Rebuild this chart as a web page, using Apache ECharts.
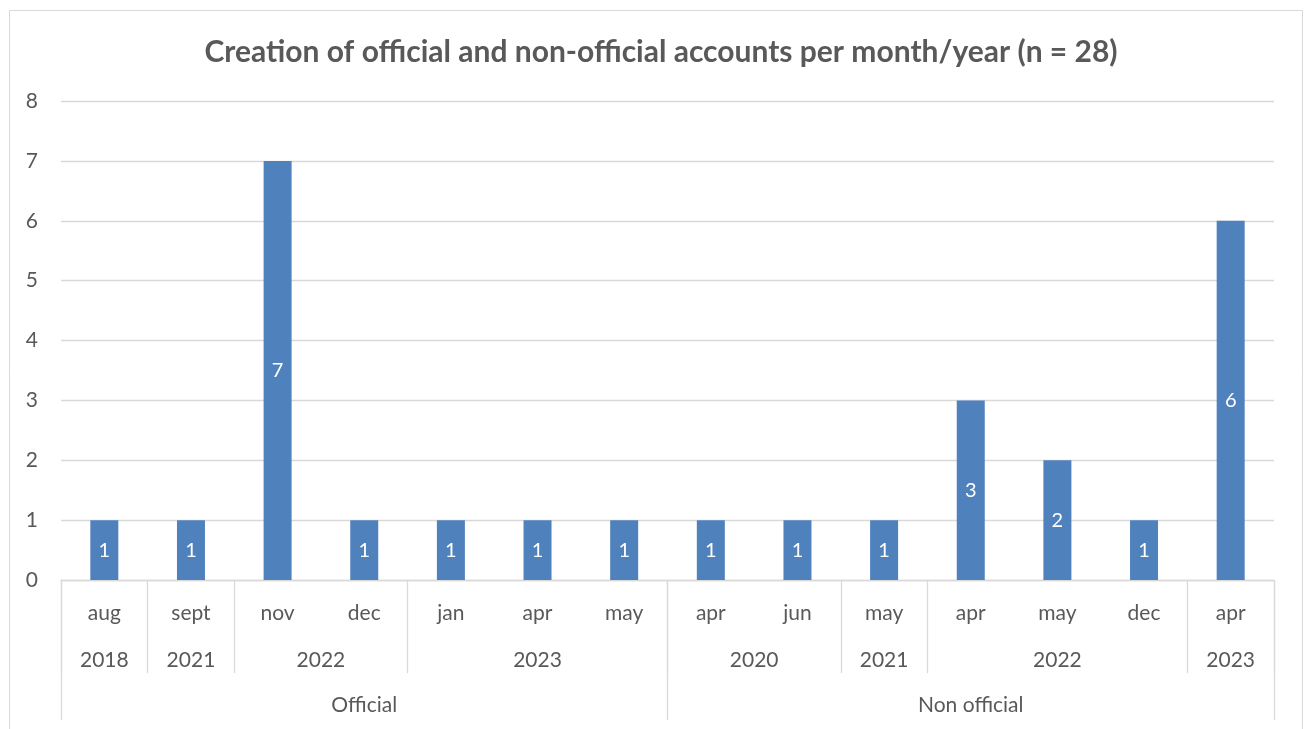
<!DOCTYPE html>
<html>
<head>
<meta charset="utf-8">
<script src="https://cdn.jsdelivr.net/npm/echarts@6/dist/echarts.min.js"></script>
<style>
  html, body { margin: 0; padding: 0; background: #ffffff; }
  #chart { width: 1305px; height: 729px; }
</style>
</head>
<body>
<div id="chart"></div>
<script>
// Months (innermost axis level), one per bar
const months = ['aug', 'sept', 'nov', 'dec', 'jan', 'apr', 'may',
                'apr', 'jun', 'may', 'apr', 'may', 'dec', 'apr'];
// Number of accounts created in each month
const accounts = [1, 1, 7, 1, 1, 1, 1, 1, 1, 1, 3, 2, 1, 6];
// Years (middle axis level) and how many months each spans
const yearLabels = ['2018', '2021', '2022', '2023', '2020', '2021', '2022', '2023'];
const yearSpans  = [1, 1, 2, 3, 2, 1, 3, 1];
// Account type (outer axis level) and how many months each spans
const groupLabels = ['Official', 'Non official'];
const groupSpans  = [7, 7];
// Value axis ticks
const yTicks = [0, 1, 2, 3, 4, 5, 6, 7, 8];

const FONT = 'Lato, "Open Sans", sans-serif';
const TEXT = '#595959';
const LINE = '#d9d9d9';
const LABEL_SIZE = 21;

// Turn group spans into boundary positions and label centres on a 0..n scale
function layoutSpans(spans) {
  const bounds = [0];
  const centres = [];
  let pos = 0;
  spans.forEach(s => { centres.push(pos + s / 2); pos += s; bounds.push(pos); });
  return { bounds, centres };
}
const yearLayout = layoutSpans(yearSpans);
const groupLayout = layoutSpans(groupSpans);
const n = months.length;

function levelAxis(layout, labels, tickLen, labelMargin) {
  return {
    type: 'value',
    position: 'bottom',
    min: 0,
    max: n,
    axisLine: { show: false },
    splitLine: { show: false },
    axisTick: {
      show: true,
      customValues: layout.bounds,
      length: tickLen,
      lineStyle: { color: LINE, width: 1.3 }
    },
    axisLabel: {
      show: true,
      customValues: layout.centres,
      margin: labelMargin,
      fontFamily: FONT,
      fontSize: LABEL_SIZE,
      color: TEXT,
      hideOverlap: false,
      formatter: v => {
        const i = layout.centres.findIndex(c => Math.abs(c - v) < 1e-6);
        return i >= 0 ? labels[i] : '';
      }
    }
  };
}

const chart = echarts.init(document.getElementById('chart'), null, { renderer: 'canvas' });
chart.setOption({
  backgroundColor: '#ffffff',
  animation: false,
  title: {
    text: 'Creation of official and non-official accounts per month/year (n = 28)',
    left: 656,
    textAlign: 'center',
    top: 32,
    textStyle: { fontFamily: FONT, fontSize: 30, fontWeight: 'bold', color: TEXT }
  },
  graphic: [{
    type: 'rect',
    shape: { x: 9.5, y: 10.5, width: 1293, height: 740 },
    style: { fill: 'none', stroke: LINE, lineWidth: 1 },
    silent: true,
    z: -1
  }],
  grid: { left: 61, right: 31, top: 101, bottom: 149, containLabel: false },
  xAxis: [
    {
      type: 'category',
      position: 'bottom',
      data: months,
      axisLine: { show: true, lineStyle: { color: LINE, width: 1.3 } },
      axisTick: { show: false },
      axisLabel: { interval: 0, margin: 23, fontFamily: FONT, fontSize: LABEL_SIZE, color: TEXT }
    },
    levelAxis(yearLayout, yearLabels, 93, 70),
    levelAxis(groupLayout, groupLabels, 140, 115)
  ],
  yAxis: {
    type: 'value',
    min: yTicks[0],
    max: yTicks[yTicks.length - 1],
    interval: 1,
    axisLine: { show: false },
    axisTick: { show: false },
    splitLine: { lineStyle: { color: LINE, width: 1.3 } },
    axisLabel: { margin: 23, fontFamily: FONT, fontSize: LABEL_SIZE, color: TEXT }
  },
  series: [{
    type: 'bar',
    xAxisIndex: 0,
    data: accounts,
    barWidth: 28,
    itemStyle: { color: '#4f81bd' },
    label: {
      show: true,
      position: 'inside',
      fontFamily: FONT,
      fontSize: 20,
      color: '#ffffff'
    }
  }]
});
</script>
</body>
</html>
